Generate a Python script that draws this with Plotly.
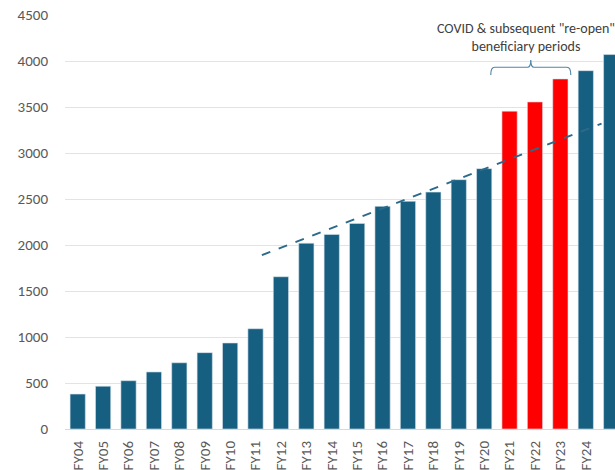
import plotly.graph_objects as go

# --- Data ---
years = ["FY04", "FY05", "FY06", "FY07", "FY08", "FY09", "FY10", "FY11",
         "FY12", "FY13", "FY14", "FY15", "FY16", "FY17", "FY18", "FY19",
         "FY20", "FY21", "FY22", "FY23", "FY24", "FY25"]
values = [380, 465, 525, 620, 720, 830, 935, 1090,
          1655, 2020, 2115, 2235, 2420, 2475, 2575, 2710,
          2830, 3455, 3555, 3805, 3895, 4070]
covid_years = ["FY21", "FY22", "FY23"]

# dashed trend line, ends given as (category position, value)
trend_x = [7.25, 20.62]
trend_y = [1890, 3320]

BLUE = "#175f80"
RED = "#ff0000"
FONT = "Carlito, Lato, sans-serif"

idx = list(range(len(years)))
colors = [RED if y in covid_years else BLUE for y in years]

fig = go.Figure()

fig.add_trace(go.Bar(
    x=idx,
    y=values,
    marker=dict(color=colors, line=dict(color="#d6e4ec", width=0.6)),
    width=0.6,
    showlegend=False,
    hoverinfo="x+y",
))

fig.add_trace(go.Scatter(
    x=trend_x,
    y=trend_y,
    mode="lines",
    line=dict(color="#2b6a8a", width=2, dash="dash"),
    showlegend=False,
    hoverinfo="skip",
))

# curly bracket over the covid years
x0 = years.index(covid_years[0]) - 0.74
x1 = years.index(covid_years[-1]) + 0.41
xm = (x0 + x1) / 2
yb, yh, yt = 3849, 3932, 4012
brace = (f"M {x0},{yb} Q {x0},{yh} {x0 + 0.15},{yh} L {xm - 0.13},{yh} "
         f"Q {xm},{yh} {xm},{yt} Q {xm},{yh} {xm + 0.13},{yh} "
         f"L {x1 - 0.15},{yh} Q {x1},{yh} {x1},{yb}")
fig.add_shape(type="path", path=brace, xref="x", yref="y",
              line=dict(color="#4f86a6", width=1.2))

fig.add_annotation(
    x=xm - 0.2, y=4255, xref="x", yref="y",
    text='COVID & subsequent "re-open"<br>beneficiary periods',
    showarrow=False,
    font=dict(family=FONT, size=14, color="#404040"),
    align="center",
)

fig.update_layout(
    width=615,
    height=470,
    margin=dict(l=65, r=0, t=15, b=41),
    paper_bgcolor="white",
    plot_bgcolor="white",
    font=dict(family=FONT, size=15, color="#595959"),
    bargap=0.4,
)

fig.update_xaxes(
    range=[-0.5, 21.15],
    tickmode="array",
    tickvals=idx,
    ticktext=years,
    tickangle=-90,
    tickfont=dict(family=FONT, size=15, color="#595959"),
    showgrid=False,
    showline=True,
    linecolor="#d9d9d9",
    linewidth=1,
    zeroline=False,
    ticks="",
    ticklabelstandoff=5,
    automargin=False,
)

fig.update_yaxes(
    range=[0, 4500],
    dtick=500,
    tick0=0,
    showgrid=True,
    gridcolor="#e3e3e3",
    gridwidth=1,
    zeroline=False,
    showline=False,
    ticks="",
    tickfont=dict(family=FONT, size=15, color="#595959"),
    ticklabelstandoff=16,
    automargin=False,
)

# drop the browser's default page margin so the chart sits at the corner
fig.write_html("out.html", config={"displayModeBar": False},
               post_script="document.body.style.margin='0';")
